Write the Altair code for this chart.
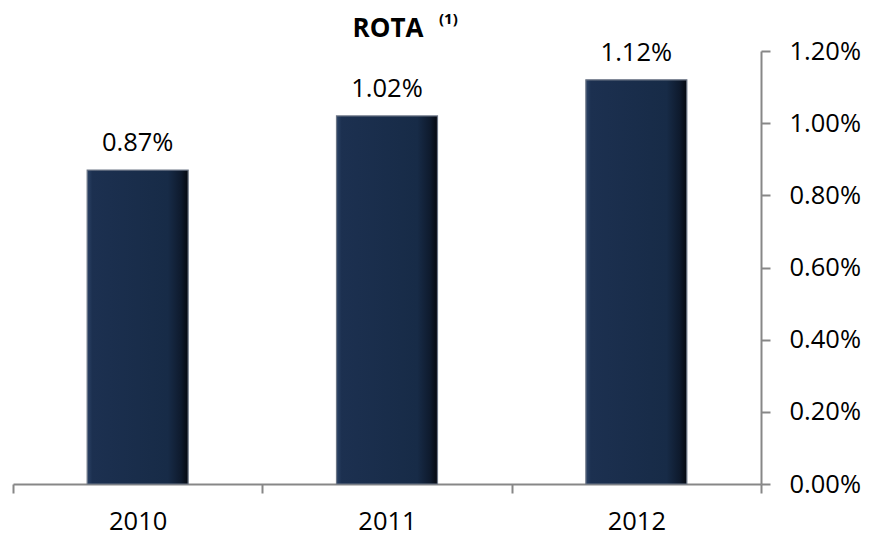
import altair as alt
import pandas as pd

years = ["2010", "2011", "2012"]
rota = [0.0087, 0.0102, 0.0112]
labels = ["0.87%", "1.02%", "1.12%"]
y_ticks = [0.0, 0.002, 0.004, 0.006, 0.008, 0.010, 0.012]
title_main = "ROTA"
title_note = "(1)"

df = pd.DataFrame({"year": years, "rota": rota, "label": labels})

FONT = "Open Sans"
AX = "#878787"

x_enc = alt.X(
    "year:N", sort=years, title=None,
    scale=alt.Scale(paddingInner=0, paddingOuter=0),
    axis=alt.Axis(
        labelAngle=0, labelFont=FONT, labelFontSize=25.5, labelColor="#000000",
        labelPadding=16, tickBand="extent", tickSize=9, tickWidth=2,
        tickColor=AX, domainColor=AX, domainWidth=2, grid=False,
    ),
)
y_enc = alt.Y(
    "rota:Q", title=None,
    scale=alt.Scale(domain=[0, 0.012], nice=False, zero=True),
    axis=alt.Axis(
        orient="right", values=y_ticks, format=".2%", grid=False,
        labelFont=FONT, labelFontSize=25.5, labelColor="#000000",
        labelPadding=19, tickSize=9, tickWidth=2, tickColor=AX,
        domainColor=AX, domainWidth=2,
    ),
)

bar_fill = alt.Gradient(
    gradient="linear", x1=0, x2=1, y1=0, y2=0,
    stops=[
        alt.GradientStop(color="#2c4366", offset=0),
        alt.GradientStop(color="#1c3050", offset=0.05),
        alt.GradientStop(color="#172b47", offset=0.8),
        alt.GradientStop(color="#0e1a2d", offset=0.93),
        alt.GradientStop(color="#04080f", offset=1),
    ],
)

base = alt.Chart(df)

bars = base.mark_bar(
    width=alt.RelativeBandSize(0.405), fill=bar_fill,
    stroke="#6c7686", strokeWidth=1.2,
).encode(x=x_enc, y=y_enc)

values = base.mark_text(
    dy=-14, baseline="bottom", font=FONT, fontSize=25.5, color="#000000",
).encode(x=alt.X("year:N", sort=years), y=alt.Y("rota:Q"), text="label:N")

t1 = alt.Chart(alt.Data(values=[{"t": title_main}])).mark_text(
    font=FONT, fontSize=26, fontWeight="bold", color="#000000",
    align="center", baseline="alphabetic",
).encode(text="t:N", x=alt.value(375), y=alt.value(-14))

t2 = alt.Chart(alt.Data(values=[{"t": title_note}])).mark_text(
    font=FONT, fontSize=15, fontWeight="bold", color="#000000",
    align="left", baseline="alphabetic",
).encode(text="t:N", x=alt.value(426), y=alt.value(-27))

chart = alt.layer(bars, values, t1, t2).properties(
    width=748, height=433,
    autosize=alt.AutoSizeParams(type="none"),
    padding={"left": 13, "top": 51, "right": 120, "bottom": 53},
    background="#ffffff",
).configure_view(stroke=None)

chart.save("out.html", embed_options={"renderer": "svg", "actions": False})
